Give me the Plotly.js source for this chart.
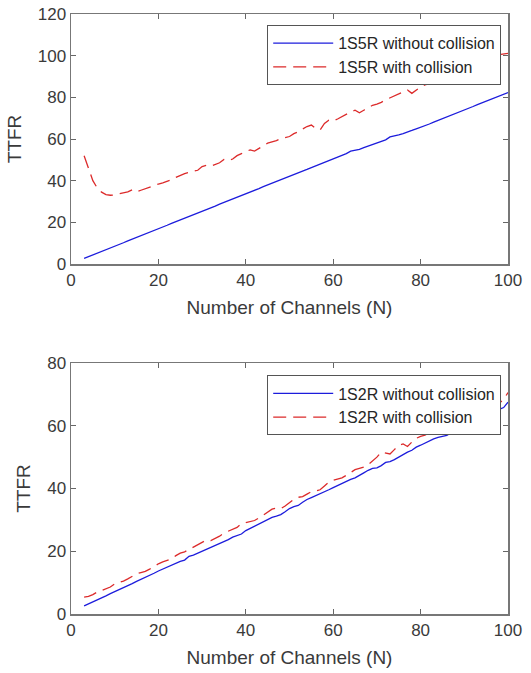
<!DOCTYPE html>
<html>
<head>
<meta charset="utf-8">
<script src="https://cdn.plot.ly/plotly-3.0.1.min.js"></script>
<style>html,body{margin:0;padding:0;background:#fff;}#chart{width:531px;height:673px;}</style>
</head>
<body>
<div id="chart"></div>
<script>
// Number of channels N
var channels = [3,4,5,6,7,8,9,10,11,12,13,14,15,16,17,18,19,20,21,22,23,24,25,26,27,28,29,30,31,32,33,34,35,36,37,38,39,40,41,42,43,44,45,46,47,48,49,50,51,52,53,54,55,56,57,58,59,60,61,62,63,64,65,66,67,68,69,70,71,72,73,74,75,76,77,78,79,80,81,82,83,84,85,86,87,88,89,90,91,92,93,94,95,96,97,98,99,100];

// 1S5R
var ttfr1S5RNoCollision = [2.7,3.5,4.4,5.2,6.1,6.9,7.7,8.6,9.4,10.2,11.1,11.9,12.8,13.6,14.4,15.3,16.1,16.9,17.8,18.6,19.5,20.3,21.1,22.0,22.8,23.7,24.5,25.3,26.2,27.0,27.8,28.7,29.5,30.4,31.2,32.0,32.9,33.7,34.5,35.4,36.2,37.1,37.9,38.7,39.6,40.4,41.3,42.1,42.9,43.8,44.6,45.4,46.3,47.1,48.0,48.8,49.6,50.5,51.3,52.2,53.0,54.2,54.5,55.0,55.9,56.6,57.4,58.2,58.9,59.6,61.0,61.4,62.0,62.6,63.5,64.1,64.9,65.6,66.4,67.2,68.1,68.9,69.8,70.6,71.4,72.3,73.1,74.0,74.8,75.6,76.5,77.3,78.1,79.0,79.8,80.7,81.5,82.3,83.2,84.0];
var ttfr1S5RCollision = [52.0,46.0,40.0,36.5,34.5,33.3,33.0,33.2,33.6,34.0,34.6,35.6,34.6,35.4,36.2,37.0,37.8,38.4,39.0,39.6,40.4,41.6,42.6,43.4,44.0,44.6,45.0,46.8,47.4,47.0,47.8,48.6,50.2,49.6,50.4,52.0,53.0,54.0,54.8,54.2,55.6,57.0,58.0,58.6,59.2,60.2,60.6,61.2,62.6,63.4,64.8,66.0,66.7,65.0,64.3,67.5,69.0,68.6,69.6,70.8,71.8,73.0,73.8,72.6,73.8,75.2,76.2,76.8,77.6,78.8,79.8,80.6,81.6,82.6,83.5,81.9,83.4,85.0,86.0,86.6,87.6,88.4,89.2,90.2,91.6,92.8,93.8,94.8,95.8,96.6,97.4,98.2,99.0,99.6,100.2,100.6,100.9,101.1,101.2,101.4];

// 1S2R
var ttfr1S2RNoCollision = [2.6,3.2,3.9,4.5,5.2,5.8,6.5,7.1,7.8,8.4,9.1,9.7,10.4,11.0,11.7,12.4,13.0,13.7,14.3,15.0,15.6,16.3,16.8,17.2,18.4,18.8,19.4,20.2,20.6,21.3,22.0,22.6,23.1,23.7,24.5,25.0,25.5,26.6,27.3,28.0,28.6,29.3,30.1,30.8,31.2,31.7,32.6,33.6,34.2,34.6,35.6,36.5,37.1,37.7,38.3,38.8,39.6,40.3,41.0,41.6,42.3,42.9,43.4,44.1,45.0,45.8,46.4,46.6,47.3,48.3,48.6,49.2,50.0,50.9,51.6,52.2,53.2,53.8,54.5,55.3,55.8,56.3,56.6,56.9,57.8,58.9,59.9,60.6,61.2,61.8,62.5,63.1,63.9,64.6,65.0,65.2,65.8,67.5];
var ttfr1S2RCollision = [5.4,5.6,6.2,7.0,7.5,8.0,8.6,9.6,10.0,10.5,11.2,12.0,12.8,13.2,13.6,14.3,15.2,16.0,16.6,17.0,17.6,18.6,19.4,19.8,20.6,21.2,22.0,23.0,23.6,23.4,24.0,24.8,25.8,26.4,26.8,27.6,28.8,29.2,29.4,29.8,30.6,31.6,32.4,33.4,33.8,33.6,34.4,35.4,36.6,37.2,37.4,38.2,39.0,39.2,39.6,40.8,42.0,42.6,43.0,43.4,44.2,45.2,46.0,46.4,46.8,47.6,48.8,50.0,51.6,51.2,51.0,52.4,53.8,54.2,53.4,54.8,56.0,56.6,57.0,57.8,58.6,59.4,60.0,60.4,61.2,61.8,62.4,63.0,63.6,64.2,64.8,65.4,65.8,66.2,66.6,67.2,68.4,70.6];

var xTicks = [0,20,40,60,80,100];
var names = ['1S5R without collision','1S5R with collision','1S2R without collision','1S2R with collision'];

var BLUE = '#1c1cdc', RED = '#dc2a2a';
var FONT = 'Liberation Sans, Arial, sans-serif';
var DASH = '13px,7px';

var traces = [
  {x: channels, y: ttfr1S5RNoCollision, name: names[0], type: 'scatter', mode: 'lines', xaxis: 'x', yaxis: 'y', legend: 'legend', line: {color: BLUE, width: 1.3}},
  {x: channels, y: ttfr1S5RCollision, name: names[1], type: 'scatter', mode: 'lines', xaxis: 'x', yaxis: 'y', legend: 'legend', line: {color: RED, width: 1.3, dash: DASH}},
  {x: channels, y: ttfr1S2RNoCollision, name: names[2], type: 'scatter', mode: 'lines', xaxis: 'x2', yaxis: 'y2', legend: 'legend2', line: {color: BLUE, width: 1.3}},
  {x: channels, y: ttfr1S2RCollision, name: names[3], type: 'scatter', mode: 'lines', xaxis: 'x2', yaxis: 'y2', legend: 'legend2', line: {color: RED, width: 1.3, dash: DASH}}
];

function xAxis(anchor) {
  return {
    anchor: anchor, domain: [0, 1], range: [0, 100], tickvals: xTicks,
    ticks: 'inside', ticklen: 5, tickcolor: '#666', mirror: 'ticks',
    showline: true, linecolor: '#777', linewidth: 1.5, showgrid: false, zeroline: false,
    tickfont: {family: FONT, size: 17, color: '#3a3a3a'},
    title: {text: 'Number of Channels (N)', font: {family: FONT, size: 19, color: '#3a3a3a'}, standoff: 12},
    automargin: false
  };
}
function yAxis(anchor, domain, range) {
  return {
    anchor: anchor, domain: domain, range: range, dtick: 20,
    ticks: 'inside', ticklen: 5, tickcolor: '#666', mirror: 'ticks',
    showline: true, linecolor: '#777', linewidth: 1.5, showgrid: false, zeroline: false,
    tickfont: {family: FONT, size: 17, color: '#3a3a3a'},
    title: {text: 'TTFR', font: {family: FONT, size: 19, color: '#3a3a3a'}, standoff: 11},
    automargin: false
  };
}

function legendBox(y) {
  return {
    x: 0.984, xanchor: 'right', y: y, yanchor: 'top',
    bgcolor: '#ffffff', bordercolor: '#555', borderwidth: 1.2,
    font: {family: FONT, size: 16, color: '#262626'},
    itemwidth: 60, tracegroupgap: 0, traceorder: 'normal'
  };
}

var layout = {
  width: 531, height: 673,
  margin: {l: 71, r: 23, t: 14, b: 59},
  paper_bgcolor: '#ffffff', plot_bgcolor: '#ffffff',
  showlegend: true,
  xaxis: xAxis('y'),
  yaxis: yAxis('x', [0.5833, 1], [0, 120]),
  xaxis2: xAxis('y2'),
  yaxis2: yAxis('x2', [0, 0.4183], [0, 80]),
  legend: legendBox(0.9817),
  legend2: legendBox(0.398)
};

Plotly.newPlot('chart', traces, layout, {staticPlot: true, displayModeBar: false});
</script>
</body>
</html>
